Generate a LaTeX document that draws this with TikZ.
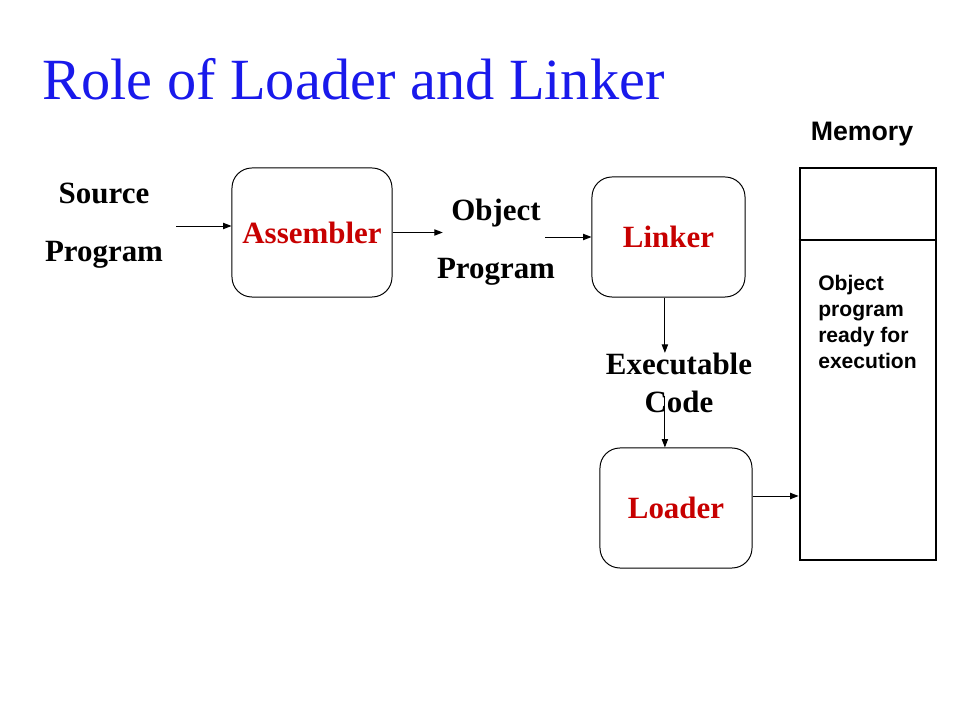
\documentclass[tikz,border=0pt]{standalone}
\usepackage{fontspec}
\setmainfont{Liberation Serif}
\newfontfamily\arialfont{Liberation Sans}
\usetikzlibrary{arrows.meta}
\definecolor{slidered}{rgb}{0.78, 0.0, 0.0}
\definecolor{slideblue}{rgb}{0.1, 0.1, 0.92}

\begin{document}
\begin{tikzpicture}[x=0.025cm, y=-0.025cm, >={Triangle[length=6pt,width=4.5pt]},
		B/.style = {draw, rounded corners=0.5cm, line width=0.7pt, text=slidered,
			font=\fontsize{22}{26}\selectfont\bfseries},
		T/.style = {align=center, inner sep=0, font=\fontsize{22}{41}\selectfont\bfseries},
		A/.style = {->, line width=0.7pt}
		]
		\useasboundingbox (0,0) rectangle (960,720);
		\node[anchor=base west, inner sep=0, text=slideblue,
			font=\fontsize{41.5}{48}\selectfont] (title) at (42,100) {Role of Loader and Linker};
		
		\node[T] (src) at (104,226) {Source\\Program};
		\node[T] (obj) at (496,242) {Object\\Program};
		\node[T, font=\fontsize{22}{27}\selectfont\bfseries] (exe) at (679,383) {Executable\\Code};
		
		\node[B, minimum width=4cm, minimum height=3.225cm] (asm) at (312,232.5) {Assembler};
		\node[B, minimum width=3.825cm, minimum height=3cm] (lnk) at (668.5,237) {\raisebox{-1pt}{Linker}};
		\node[B, minimum width=3.8cm, minimum height=3cm] (ldr) at (676,508) {\raisebox{-1.5pt}{Loader}};
		
		% memory
		\node[draw, line width=2pt, inner sep=0, minimum width=3.4cm, minimum height=9.8cm] (mem) at (868,364) {};
		\draw[line width=1.4pt] (mem.west |- 0,240) -- (mem.east |- 0,240);
		\node[font=\arialfont\fontsize{19}{22}\selectfont\bfseries] (memlbl) at (862,134) {Memory};
		\node[anchor=north west, align=left, inner sep=0,
			font=\arialfont\fontsize{15}{18.5}\selectfont\bfseries] (memtxt) at (818,275) {Object\\program\\ready for\\execution};
		
		\draw[A] ([xshift=0.33cm]src.east) -- (src.east -| asm.west);
		\draw[A] (asm.east) -- ([xshift=0.15cm]obj.west |- asm.east);
		\draw[A] ([xshift=-0.25cm]obj.east |- lnk.west) -- (lnk.west);
		\draw[A] ([xshift=-0.09cm]lnk.south) -- ([xshift=-0.09cm]lnk.south |- exe.north);
		\draw[A] ([yshift=0.43cm,xshift=-0.09cm]exe.south -| lnk.south) -- ([xshift=-0.09cm]ldr.north -| lnk.south);
		\draw[A] ([yshift=0.3cm]ldr.east) -- ([yshift=0.3cm]ldr.east -| mem.west);
	\end{tikzpicture}
\end{document}
